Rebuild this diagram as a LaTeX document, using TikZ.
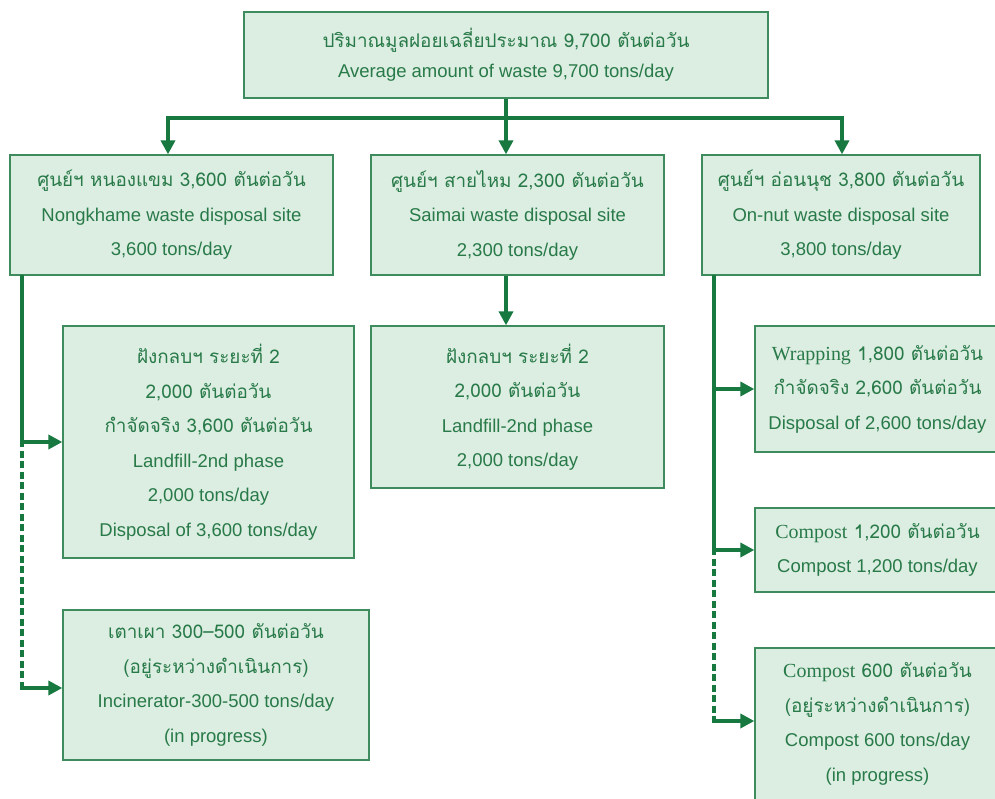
\documentclass[tikz,border=0pt]{standalone}
\usepackage{fontspec}
\setmainfont{Liberation Sans}
\newfontfamily\thaifont[Script=Thai,Scale=1.02]{Loma}
\newfontfamily\romanfont[Scale=1.08]{Liberation Serif}
\usetikzlibrary{arrows.meta}
\definecolor{boxfill}{HTML}{DCEDE2}
\definecolor{boxline}{HTML}{3E8C5E}
\definecolor{txt}{HTML}{287A48}
\definecolor{flow}{HTML}{17793F}
\tikzset{
  box/.style={draw=boxline, fill=boxfill, line width=1.3pt, inner sep=0pt,
    align=center, text=txt, font=\fontsize{18.5}{34.5}\selectfont},
  flowline/.style={draw=flow, line width=3.8pt},
  flowarrow/.style={flowline, -{Triangle[length=14pt,width=14pt]}},
  planned/.style={flowline, dash pattern=on 7pt off 3.5pt},
}
\begin{document}
\begin{tikzpicture}[x=1pt,y=-1pt]
\useasboundingbox (0,0) rectangle (995,799);
\clip (0,0) rectangle (995,799);

% total amount
\node[box, minimum width=524, minimum height=86, font=\fontsize{18.5}{30}\selectfont] (top) at (506,55)
  {\raisebox{-3pt}{\thaifont ปริมาณมูลฝอยเฉลี่ยประมาณ 9,700 ตันต่อวัน}\\\raisebox{-3pt}{Average amount of waste 9,700 tons/day}};

% disposal sites
\node[box, minimum width=323, minimum height=120] (l1) at (171.5,215)
  {{\thaifont ศูนย์ฯ หนองแขม 3,600 ตันต่อวัน}\\Nongkhame waste disposal site\\3,600 tons/day};
\node[box, minimum width=293, minimum height=120] (m1) at (517.5,215)
  {{\thaifont ศูนย์ฯ สายไหม 2,300 ตันต่อวัน}\\Saimai waste disposal site\\2,300 tons/day};
\node[box, minimum width=278, minimum height=120] (r1) at (841,215)
  {{\thaifont ศูนย์ฯ อ่อนนุช 3,800 ตันต่อวัน}\\On-nut waste disposal site\\3,800 tons/day};

% Nongkhame branch
\node[box, minimum width=291, minimum height=232] (l2) at (208.5,442)
  {{\thaifont ฝังกลบฯ ระยะที่ 2}\\{\thaifont 2,000 ตันต่อวัน}\\{\thaifont กำจัดจริง 3,600 ตันต่อวัน}\\Landfill-2nd phase\\2,000 tons/day\\Disposal of 3,600 tons/day};
\node[box, minimum width=306, minimum height=150] (l3) at (216,685)
  {{\thaifont เตาเผา 300–500 ตันต่อวัน}\\{\thaifont (อยู่ระหว่างดำเนินการ)}\\Incinerator-300-500 tons/day\\(in progress)};

% Saimai branch
\node[box, minimum width=293, minimum height=162] (m2) at (517.5,407)
  {{\thaifont ฝังกลบฯ ระยะที่ 2}\\{\thaifont 2,000 ตันต่อวัน}\\Landfill-2nd phase\\2,000 tons/day};

% On-nut branch
\node[box, minimum width=245, minimum height=126] (r2) at (877.5,389)
  {{\romanfont Wrapping}{\thaifont{} 1,800 ตันต่อวัน}\\{\thaifont กำจัดจริง 2,600 ตันต่อวัน}\\Disposal of 2,600 tons/day};
\node[box, minimum width=245, minimum height=84] (r3) at (877.5,550)
  {{\romanfont Compost}{\thaifont{} 1,200 ตันต่อวัน}\\Compost 1,200 tons/day};
\node[box, minimum width=245, minimum height=152] (r4) at (877.5,724)
  {{\romanfont Compost}{\thaifont{} 600 ตันต่อวัน}\\{\thaifont (อยู่ระหว่างดำเนินการ)}\\Compost 600 tons/day\\(in progress)};

% distribution bus
\coordinate (busL) at (168,118);
\coordinate (busR) at (842,118);
\draw[flowline, line cap=rect] (busL) -- (busR);
\draw[flowarrow] (top.south) -- (top.south |- m1.north);
\draw[flowarrow] (busL) -- (busL |- l1.north);
\draw[flowarrow] (busR) -- (busR |- r1.north);
\draw[flowarrow] (top.south |- m1.south) -- (top.south |- m2.north);

% Nongkhame feeder
\coordinate (ltop) at (22,275);
\coordinate (lmid) at (22,442);
\coordinate (lbot) at (22,688);
\draw[flowline] (ltop) -- ([yshift=1.9pt]lmid);
\draw[planned] ([yshift=1.9pt]lmid) -- (lbot);
\draw[flowarrow] ([xshift=-1.9pt]lmid) -- (lmid -| l2.west);
\draw[flowarrow] ([xshift=-1.9pt]lbot) -- (lbot -| l3.west);

% On-nut feeder
\coordinate (rtop) at (714,275);
\coordinate (rm1) at (714,389);
\coordinate (rm2) at (714,550);
\coordinate (rbot) at (714,721);
\draw[flowline] (rtop) -- ([yshift=1.9pt]rm2);
\draw[planned] ([yshift=1.9pt]rm2) -- (rbot);
\draw[flowarrow] (rm1) -- (rm1 -| r2.west);
\draw[flowarrow] ([xshift=-1.9pt]rm2) -- (rm2 -| r3.west);
\draw[flowarrow] ([xshift=-1.9pt]rbot) -- (rbot -| r4.west);
\end{tikzpicture}
\end{document}
